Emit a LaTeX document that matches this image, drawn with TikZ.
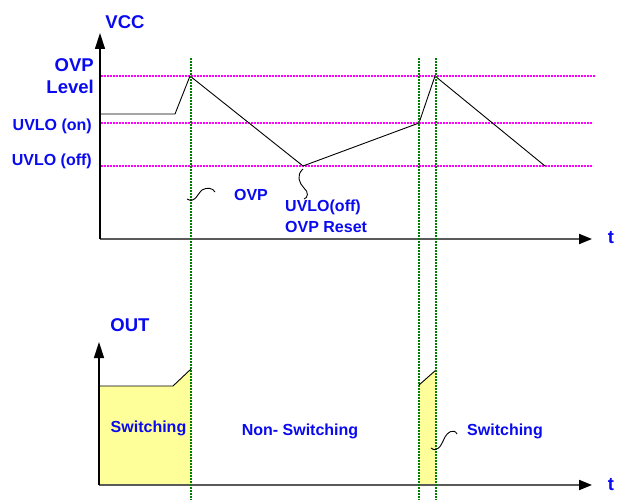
\documentclass[tikz,border=0pt]{standalone}
\usepackage{fontspec}
\setmainfont{Liberation Sans}
\usetikzlibrary{arrows.meta}
\definecolor{txtblue}{RGB}{10,10,240}
\definecolor{mag}{RGB}{255,0,255}
\definecolor{grn}{RGB}{0,128,0}
\definecolor{yel}{RGB}{255,255,153}
\definecolor{axgray}{RGB}{90,90,90}
\tikzset{
  lbl/.style={font=\fontsize{16}{18}\selectfont\bfseries, text=txtblue, inner sep=0pt},
  biglbl/.style={lbl, font=\fontsize{18.5}{21}\selectfont\bfseries},
  level/.style={draw=mag, line width=2pt, dash pattern=on 2pt off 1pt},
  marker/.style={draw=grn, line width=2pt, dash pattern=on 2pt off 1pt},
  yaxis/.style={draw=black, line width=1.4pt, -{Triangle[length=16pt,width=10pt]}},
  xaxis/.style={draw=axgray, line width=2pt, -{Triangle[length=13pt,width=10pt,fill=black,color=black]}},
  wave/.style={draw=black, line width=0.9pt},
  sq/.style={draw=black, line width=0.9pt},
}
\begin{document}
\begin{tikzpicture}[x=1pt,y=-1pt]
\useasboundingbox (0,0) rectangle (619,500);
% coordinates
\coordinate (yo) at (100,239);
\coordinate (ytop) at (100,33);
\coordinate (xend) at (592,239);
\coordinate (bo) at (99,485);
\coordinate (btop) at (99,342);
\coordinate (bend) at (592,485);
% yellow regions
\fill[yel] (99,386) -- (173,386) -- (191,369) -- (191,485) -- (99,485) -- cycle;
\fill[yel] (419,385) -- (436,370) -- (436,485) -- (419,485) -- cycle;
\draw[wave] (99,386) -- (173,386) -- (191,369);
\draw[wave] (419,385) -- (436,370);
% level lines
\draw[level] (101,76) -- (595,76);
\draw[level] (101,123) -- (593,123);
\draw[level] (101,166) -- (593,166);
% VCC waveform
\draw[wave] (101,114) -- (175,114) -- (190,76) -- (303,166) -- (419,123) -- (435,76) -- (545,166);
% axes
\draw[xaxis] (yo) -- (xend);
\draw[yaxis] (yo) -- (ytop);
\draw[xaxis] (bo) -- (bend);
\draw[yaxis] (bo) -- (btop);
% markers
\draw[marker] (191,58) -- (191,500);
\draw[marker] (419,58) -- (419,500);
\draw[marker] (436,58) -- (436,500);
% squiggles
\draw[sq] (187,199) .. controls (195,204) and (198,193) .. (202,190) .. controls (207,187) and (213,188) .. (215,192);
\draw[sq] (303,169) .. controls (296,175) and (299,183) .. (304,188) .. controls (309,192) and (308,198) .. (304,199);
\draw[sq] (431,448) .. controls (437,453) and (441,446) .. (444,439) .. controls (447,432) and (454,428) .. (457,434);
% labels
\node[biglbl] (vcc) at (125,22) {VCC};
\node[biglbl, anchor=east] (ovp1) at (94,65) {OVP};
\node[biglbl, anchor=east] (lev) at (94,87) {Level};
\node[lbl, anchor=east] (uon) at (92,126) {UVLO (on)};
\node[lbl, anchor=east] (uoff) at (92,161) {UVLO (off)};
\node[lbl] (ovp2) at (251,195) {OVP};
\node[lbl, anchor=west] (ur1) at (285,207) {UVLO(off)};
\node[lbl, anchor=west] (ur2) at (285,227) {OVP Reset};
\node[biglbl] (t1) at (611,238) {t};
\node[biglbl] (out) at (130,325) {OUT};
\node[biglbl] (t2) at (611,485) {t};
\node[lbl] (sw1) at (148.5,428) {Switching};
\node[lbl] (nsw) at (300,431) {Non- Switching};
\node[lbl] (sw2) at (505,431) {Switching};
\end{tikzpicture}
\end{document}
